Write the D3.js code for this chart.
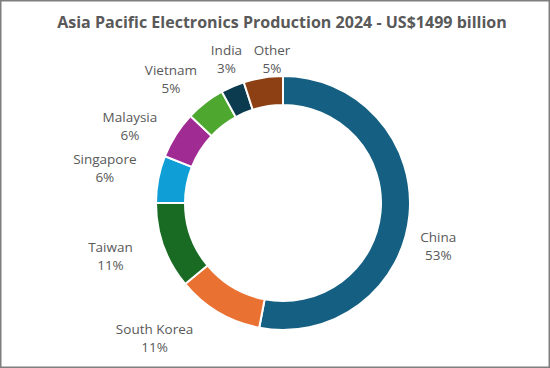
<!DOCTYPE html>
<html>
<head>
<meta charset="utf-8">
<script src="https://cdn.jsdelivr.net/npm/d3@7"></script>
<style>
  html, body { margin: 0; padding: 0; background: #fff; }
  svg { display: block; }
</style>
</head>
<body>
<svg id="chart" width="550" height="368"></svg>
<script>
// ---- data ----
const categories = ["China", "South Korea", "Taiwan", "Singapore", "Malaysia", "Vietnam", "India", "Other"];
const shares = [53, 11, 11, 6, 6, 5, 3, 5];
const colors = ["#156082", "#E97132", "#196B24", "#0F9ED5", "#A02B93", "#4EA72E", "#0C3A4E", "#8C4014"];
const titleText = "Asia Pacific Electronics Production 2024 - US$1499 billion";
// label nudges from the arc centroid (layout only)
const labelNudge = [[-4, 28], [-47, -2], [-22, -1], [-21, -5], [-18, 9], [-14, 3], [7, 3], [14, 15]];

const W = 550, H = 368;
const cx = 283, cy = 203, rOuter = 127, rInner = 98, rLabel = 160;

const svg = d3.select("#chart");

// border
svg.append("rect").attr("x", 0.75).attr("y", 0.75).attr("width", W - 1.5).attr("height", H - 1.5)
  .attr("fill", "#fff").attr("stroke", "#7f7f7f").attr("stroke-width", 1.5);

// title
const title = svg.append("text")
  .attr("x", 282).attr("y", 27.5)
  .attr("text-anchor", "middle")
  .attr("font-family", "'Open Sans', 'Liberation Sans', sans-serif")
  .attr("font-weight", "bold")
  .attr("font-size", 16)
  .attr("fill", "#595959")
  .text(titleText);
const tl = title.node().getComputedTextLength();
title.attr("font-size", Math.min(17, 16 * 450 / tl));

const data = categories.map((c, i) => ({ name: c, value: shares[i], color: colors[i], nudge: labelNudge[i] }));

const pie = d3.pie().value(d => d.value).sort(null);
const arcs = pie(data);
const arc = d3.arc().innerRadius(rInner).outerRadius(rOuter);
const labelArc = d3.arc().innerRadius(rLabel).outerRadius(rLabel);

const g = svg.append("g").attr("transform", `translate(${cx},${cy})`);

g.selectAll("path.slice").data(arcs).join("path")
  .attr("class", "slice")
  .attr("d", arc)
  .attr("fill", d => d.data.color)
  .attr("stroke", "#fff")
  .attr("stroke-width", 2)
  .attr("stroke-linejoin", "miter");

const total = d3.sum(shares);
const fmt = v => Math.round(v / total * 100) + "%";

const labels = g.selectAll("text.lbl").data(arcs).join("text")
  .attr("class", "lbl")
  .attr("text-anchor", "middle")
  .attr("font-family", "'Open Sans', 'Liberation Sans', sans-serif")
  .attr("font-size", 13.5)
  .attr("fill", "#595959")
  .attr("transform", d => {
    const [x, y] = labelArc.centroid(d);
    return `translate(${x + d.data.nudge[0]},${y + d.data.nudge[1]})`;
  });
labels.append("tspan").attr("x", 0).attr("y", -4.5).text(d => d.data.name);
labels.append("tspan").attr("x", 0).attr("y", 13.5).text(d => fmt(d.data.value));
</script>
</body>
</html>
